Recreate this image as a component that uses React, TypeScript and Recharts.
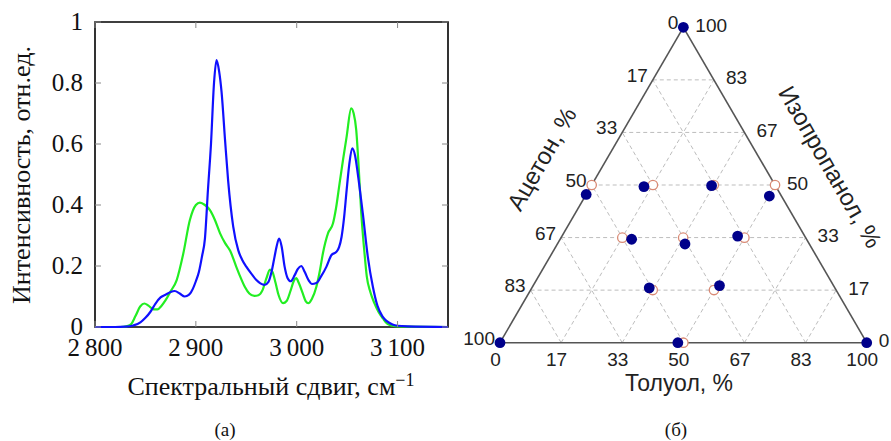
import React from "react";
import { LineChart, Line, XAxis, YAxis, ReferenceArea, ScatterChart, Scatter, ReferenceLine } from "recharts";

// (а) Raman spectra
const blueShift = [2800, 2820, 2830, 2838, 2845, 2850, 2855, 2860, 2865, 2870, 2875, 2879, 2884, 2889, 2893, 2897, 2900, 2903, 2906, 2909, 2912, 2915, 2918, 2920.5, 2923, 2925.5, 2929, 2932, 2937, 2942, 2946, 2950, 2955, 2960, 2964, 2968, 2972, 2975, 2978, 2980, 2982.5, 2985, 2988, 2991, 2994, 2998, 3001, 3004.5, 3008, 3012, 3015, 3019.5, 3024, 3029.5, 3034.5, 3039.5, 3042, 3044.5, 3047, 3049.5, 3052, 3055, 3058, 3060.5, 3065.5, 3070.5, 3075.5, 3080, 3085, 3089, 3095, 3100, 3110, 3150];
const blueIntensity = [0, 0, 0.001, 0.005, 0.015, 0.03, 0.05, 0.077, 0.097, 0.106, 0.115, 0.118, 0.11, 0.1, 0.105, 0.125, 0.15, 0.18, 0.23, 0.29, 0.45, 0.6, 0.8, 0.875, 0.84, 0.77, 0.61, 0.48, 0.33, 0.252, 0.22, 0.198, 0.175, 0.154, 0.143, 0.138, 0.148, 0.18, 0.23, 0.263, 0.29, 0.265, 0.198, 0.16, 0.15, 0.17, 0.19, 0.2, 0.18, 0.152, 0.141, 0.144, 0.165, 0.198, 0.236, 0.247, 0.262, 0.296, 0.36, 0.449, 0.53, 0.586, 0.56, 0.504, 0.373, 0.23, 0.132, 0.07, 0.035, 0.02, 0.008, 0.004, 0.002, 0];
const greenShift = [2800, 2825, 2832, 2836, 2840, 2845, 2849, 2853, 2858, 2862, 2866, 2870, 2875, 2881, 2887.5, 2894, 2900, 2904, 2909, 2914, 2919, 2924, 2929, 2934, 2940, 2944, 2948.5, 2953, 2958, 2962, 2966, 2970, 2973.5, 2976, 2979, 2982, 2986.5, 2990, 2994, 2997, 2999.5, 3002, 3006, 3009, 3011.5, 3015, 3019.5, 3023, 3026, 3031, 3036, 3039, 3042.5, 3046, 3049.5, 3054, 3056.5, 3059, 3061.5, 3064, 3067, 3069.5, 3073, 3077, 3081, 3085.5, 3090, 3095, 3100, 3150];
const greenIntensity = [0, 0, 0.003, 0.01, 0.035, 0.068, 0.077, 0.07, 0.058, 0.058, 0.07, 0.088, 0.117, 0.154, 0.24, 0.35, 0.4, 0.408, 0.4, 0.383, 0.35, 0.307, 0.275, 0.25, 0.198, 0.165, 0.132, 0.11, 0.102, 0.104, 0.12, 0.16, 0.188, 0.18, 0.145, 0.105, 0.078, 0.085, 0.12, 0.15, 0.16, 0.145, 0.11, 0.084, 0.078, 0.092, 0.132, 0.185, 0.242, 0.307, 0.34, 0.39, 0.471, 0.55, 0.624, 0.717, 0.7, 0.646, 0.52, 0.373, 0.25, 0.165, 0.115, 0.078, 0.05, 0.028, 0.01, 0.004, 0.002, 0];
const shiftTicks = [2800, 2900, 3000, 3100];
const intensityTicks = [0, 0.2, 0.4, 0.6, 0.8, 1];

// (б) ternary diagram, compositions in % (acetone = 100 - toluene - isopropanol)
const nominalToluene = [0, 16.7, 33.3, 50, 16.7, 33.3, 50, 33.3, 50, 50];
const nominalIsopropanol = [50, 50, 50, 50, 33.3, 33.3, 33.3, 16.7, 16.7, 0];
const measuredToluene = [0, 0, 100, 0, 14.5, 32.8, 50.2, 19.5, 34.8, 47.9, 32, 50.8, 48.5];
const measuredIsopropanol = [100, 0, 0, 47, 49.5, 49.8, 46.5, 32.8, 31.3, 33.8, 17.4, 18.1, 0];
const gridLevels = [16.667, 33.333, 50, 66.667, 83.333];
const edgeLevels = [0, 16.667, 33.333, 50, 66.667, 83.333, 100];
const acetoneLabels = ["0", "17", "33", "50", "67", "83", "100"];
const isopropanolLabels = ["100", "83", "67", "50", "33", "17", "0"];
const tolueneLabels = ["0", "17", "33", "50", "67", "83", "100"];

const H = Math.sqrt(3) / 2;
const toXY = (tol: number, iso: number) => ({ x: tol / 100 + iso / 200, y: (iso / 100) * H });

const blueData = blueShift.map((x, i) => ({ x, y: blueIntensity[i] }));
const greenData = greenShift.map((x, i) => ({ x, y: greenIntensity[i] }));

const nominalData = nominalToluene.map((t, i) => toXY(t, nominalIsopropanol[i]));
const measuredData = measuredToluene.map((t, i) => toXY(t, measuredIsopropanol[i]));

const leftLabels = edgeLevels.map((l, i) => ({ ...toXY(0, 100 - l), label: acetoneLabels[i] }));
const rightLabels = edgeLevels.map((l, i) => ({ ...toXY(l, 100 - l), label: isopropanolLabels[i] }));
const bottomLabels = edgeLevels.map((l, i) => ({ ...toXY(l, 0), label: tolueneLabels[i] }));

const gridSegments = gridLevels.flatMap((f) => [
  [toXY(0, f), toXY(100 - f, f)],
  [toXY(f, 0), toXY(f, 100 - f)],
  [toXY(100 - f, 0), toXY(0, 100 - f)],
]);
const edgeSegments = [
  [toXY(0, 0), toXY(100, 0)],
  [toXY(100, 0), toXY(0, 100)],
  [toXY(0, 100), toXY(0, 0)],
];

const SERIF = "'Liberation Serif', 'Times New Roman', serif";
const SANS = "'Liberation Sans', Arial, sans-serif";
const PLOT_H = 305;
const PLOT_RIGHT = 448;

function ShiftTick(props: any) {
  const { x, y, payload } = props;
  const label = String(payload.value).replace(/(\d)(\d{3})$/, "$1\u2009$2");
  return (
    <g>
      <line x1={x} x2={x} y1={y} y2={y - 6} stroke="#888" />
      <line x1={x} x2={x} y1={y - PLOT_H} y2={y - PLOT_H + 6} stroke="#888" />
      <text x={x} y={y + 29} textAnchor="middle" fontFamily={SERIF} fontSize={25} fill="#111">{label}</text>
    </g>
  );
}

function IntensityTick(props: any) {
  const { x, y, payload } = props;
  return (
    <g>
      <line x1={x} x2={x + 6} y1={y} y2={y} stroke="#888" />
      <line x1={PLOT_RIGHT - 6} x2={PLOT_RIGHT} y1={y} y2={y} stroke="#888" />
      <text x={x - 12} y={y + 7.5} textAnchor="end" fontFamily={SERIF} fontSize={25} fill="#111">{String(payload.value)}</text>
    </g>
  );
}

const labelShape = (dx: number, dy: number, anchor: string) => (p: any) => (
  <text x={p.cx + dx} y={p.cy + dy} textAnchor={anchor} fontFamily={SANS} fontSize={19} fill="#222">{p.payload.label}</text>
);

export default function App() {
  return (
    <div style={{ position: "relative", width: 891, height: 441, background: "#fff", overflow: "hidden" }}>
      <style>{`body{margin:0}`}</style>
      <div style={{ position: "absolute", left: 0, top: 0 }}>
        <LineChart width={450} height={441} margin={{ top: 22, right: 2, bottom: 0, left: 0 }}>
          <XAxis type="number" dataKey="x" domain={[2800, 3150]} allowDataOverflow ticks={shiftTicks} interval={0}
            tickSize={0} tickMargin={0} tickLine={false} axisLine={false} height={114} tick={ShiftTick} />
          <YAxis type="number" domain={[0, 1]} ticks={intensityTicks} interval={0}
            tickSize={0} tickMargin={0} tickLine={false} axisLine={false} width={95} tick={IntensityTick} />
          <ReferenceArea x1={2800} x2={3150} y1={0} y2={1} fill="none" stroke="#000" strokeWidth={1.6} ifOverflow="visible" />
          <Line data={greenData} dataKey="y" type="monotone" stroke="#22ee22" strokeWidth={2.2} dot={false} isAnimationActive={false} />
          <Line data={blueData} dataKey="y" type="monotone" stroke="#1010ff" strokeWidth={2.2} dot={false} isAnimationActive={false} />
        </LineChart>
      </div>
      <div style={{ position: "absolute", left: 450, top: 0 }}>
        <ScatterChart width={441} height={441} margin={{ top: 27.3, right: 24.3, bottom: 98.3, left: 50 }}>
          <XAxis type="number" dataKey="x" domain={[0, 1]} hide />
          <YAxis type="number" dataKey="y" domain={[0, H]} hide />
          {gridSegments.map((s, i) => (
            <ReferenceLine key={"g" + i} segment={s} stroke="#bdbdbd" strokeDasharray="4 3" ifOverflow="visible" />
          ))}
          {edgeSegments.map((s, i) => (
            <ReferenceLine key={"e" + i} segment={s} stroke="#555" strokeWidth={1.6} ifOverflow="visible" />
          ))}
          <Scatter data={nominalData} isAnimationActive={false}
            shape={(p: any) => <circle cx={p.cx} cy={p.cy} r={4.7} fill="#fff" stroke="#d98a75" strokeWidth={1.3} />} />
          <Scatter data={measuredData} isAnimationActive={false}
            shape={(p: any) => <circle cx={p.cx} cy={p.cy} r={5.4} fill="#00008b" />} />
          <Scatter data={leftLabels} isAnimationActive={false} shape={labelShape(-5, 2, "end")} />
          <Scatter data={rightLabels} isAnimationActive={false} shape={labelShape(12, 4.5, "start")} />
          <Scatter data={bottomLabels} isAnimationActive={false} shape={labelShape(-4.5, 23.5, "middle")} />
        </ScatterChart>
      </div>
      <svg width={891} height={441} style={{ position: "absolute", left: 0, top: 0, pointerEvents: "none" }}>
        <text transform="translate(30,175) rotate(-90)" textAnchor="middle" fontFamily={SERIF} fontSize={26} fill="#111">
          Интенсивность, отн.ед.
        </text>
        <text x={271} y={395} textAnchor="middle" fontFamily={SERIF} fontSize={26} fill="#111">
          Спектральный сдвиг, см<tspan dy={-9} fontSize={18}>−1</tspan>
        </text>
        <text x={225} y={436} textAnchor="middle" fontFamily={SERIF} fontSize={19} fill="#111">(а)</text>
        <text x={676} y={436} textAnchor="middle" fontFamily={SERIF} fontSize={19} fill="#111">(б)</text>
        <text x={679} y={391} textAnchor="middle" fontFamily={SANS} fontSize={23} fill="#222">Толуол, %</text>
        <text transform="translate(549,163) rotate(-60)" textAnchor="middle" fontFamily={SANS} fontSize={24} fill="#222">Ацетон, %</text>
        <text transform="translate(823,171) rotate(60)" textAnchor="middle" fontFamily={SANS} fontSize={24} fill="#222">Изопропанол, %</text>
      </svg>
    </div>
  );
}
